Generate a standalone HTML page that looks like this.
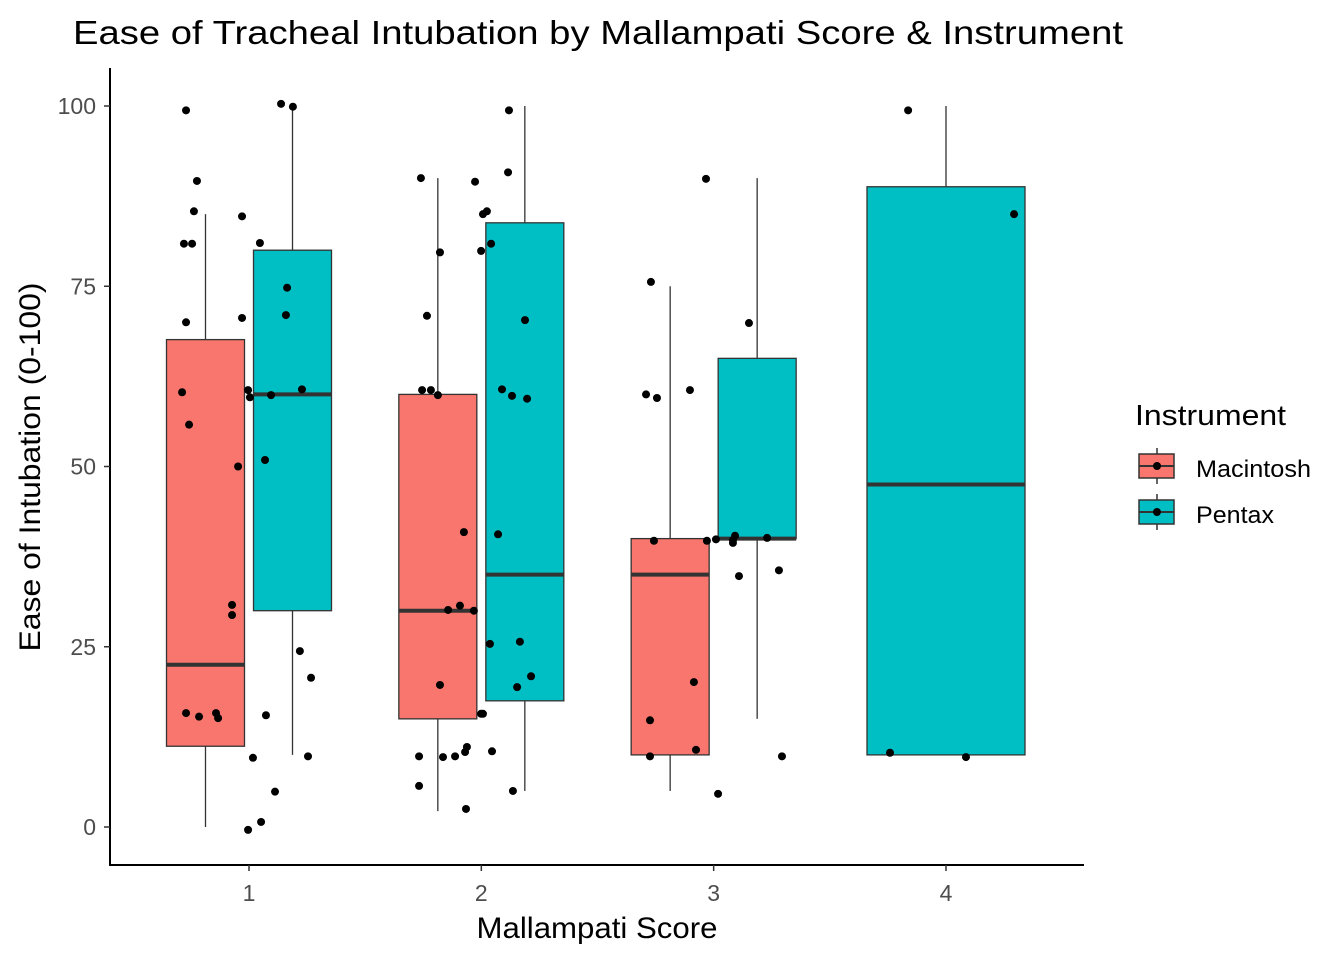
<!DOCTYPE html>
<html><head><meta charset="utf-8">
<style>
html,body{margin:0;padding:0;background:#fff;}
svg{display:block;font-family:"Liberation Sans",Arial,sans-serif;}
</style></head>
<body>
<svg id="chart" width="1344" height="960" viewBox="0 0 1344 960">
<text x="73" y="44" font-size="33" fill="#000" textLength="1050" lengthAdjust="spacingAndGlyphs">Ease of Tracheal Intubation by Mallampati Score &amp; Instrument</text>
<g id="boxes"></g>
<g id="points"></g>
<line x1="110" y1="68" x2="110" y2="866" stroke="#000" stroke-width="2"/>
<line x1="109" y1="865" x2="1084" y2="865" stroke="#000" stroke-width="2"/>
<g id="axes"></g>
<text x="597" y="938" font-size="30" text-anchor="middle" fill="#000" textLength="241" lengthAdjust="spacingAndGlyphs">Mallampati Score</text>
<text transform="translate(40,467) rotate(-90)" font-size="30" text-anchor="middle" fill="#000" textLength="369" lengthAdjust="spacingAndGlyphs">Ease of Intubation (0-100)</text>
<g>
<text x="1135" y="425" font-size="29" fill="#000" textLength="151" lengthAdjust="spacingAndGlyphs">Instrument</text>
<g>
<line x1="1157" y1="448" x2="1157" y2="484" stroke="#333" stroke-width="1.5"/>
<rect x="1139" y="454" width="35" height="24" fill="#F8766D" stroke="#333" stroke-width="1.5"/>
<line x1="1139" y1="466" x2="1174" y2="466" stroke="#333" stroke-width="2"/>
<circle cx="1157" cy="466" r="4" fill="#000"/>
<text x="1196" y="477" font-size="24" fill="#000" textLength="115" lengthAdjust="spacingAndGlyphs">Macintosh</text>
</g>
<g>
<line x1="1157" y1="494" x2="1157" y2="530" stroke="#333" stroke-width="1.5"/>
<rect x="1139" y="500" width="35" height="24" fill="#00BFC4" stroke="#333" stroke-width="1.5"/>
<line x1="1139" y1="512" x2="1174" y2="512" stroke="#333" stroke-width="2"/>
<circle cx="1157" cy="512" r="4" fill="#000"/>
<text x="1196" y="523" font-size="24" fill="#000" textLength="78" lengthAdjust="spacingAndGlyphs">Pentax</text>
</g>
</g>
</svg>
<script>
const categories = [1, 2, 3, 4];
const yTicks = [0, 25, 50, 75, 100];
const boxGroup = [1, 1, 2, 2, 3, 3, 4];
const boxInstrument = ["Macintosh", "Pentax", "Macintosh", "Pentax", "Macintosh", "Pentax", "Pentax"];
const boxLow = [0, 10, 2.2, 5, 5, 15, 10];
const boxQ1 = [11.2, 30, 15, 17.5, 10, 40, 10];
const boxMedian = [22.5, 60, 30, 35, 35, 40, 47.5];
const boxQ3 = [67.6, 80, 60, 83.8, 40, 65, 88.8];
const boxHigh = [85, 100, 90, 100, 75, 90, 100];
const pointX = [
0.729,0.776,0.763,0.720,0.755,0.729,0.712,0.742,0.953,0.927,0.927,0.729,0.785,0.858,0.867,
0.970,0.970,1.047,0.996,1.004,1.095,1.069,1.159,1.164,1.228,1.138,1.189,1.219,1.267,1.073,1.254,1.017,1.112,1.052,0.996,
1.740,1.822,1.766,1.745,1.783,1.813,1.925,1.857,1.908,1.968,1.822,1.732,1.835,1.887,1.930,1.938,1.732,1.934,
1.973,2.024,2.007,2.042,1.999,2.115,2.119,2.089,2.132,2.197,2.188,2.072,2.037,2.166,2.214,2.154,1.999,2.007,2.046,2.136,
2.730,2.709,2.756,2.743,2.898,2.915,2.726,2.726,2.924,2.967,2.971,3.010,3.083,3.092,3.083,3.152,3.109,3.230,3.281,3.019,3.294,
3.837,4.293,3.759,4.086];
const pointY = [
99.4,89.6,85.4,80.9,80.9,70,60.3,55.8,50,30.8,29.4,15.8,15.3,15.8,15.1,
84.7,70.6,81,60.6,59.6,59.9,50.9,71,74.8,60.7,100.3,99.9,24.4,20.7,15.5,9.8,9.6,4.9,0.7,-0.4,
90,79.7,70.9,60.6,60.6,59.9,40.9,30.1,30.7,30,19.7,9.8,9.7,9.8,10.4,11.1,5.7,2.5,
89.5,85.4,85,80.9,79.9,90.8,99.4,60.7,59.8,59.4,70.3,40.6,25.4,25.7,20.9,19.4,15.7,15.7,10.5,5,
75.6,60,59.5,39.7,60.6,20.1,14.8,9.8,10.7,89.9,39.7,39.9,39.8,40.4,39.4,69.9,34.8,40.1,35.6,4.6,9.8,
99.4,85,10.3,9.7];

const NS = "http://www.w3.org/2000/svg";
function xScale(v){ return 249 + (v - 1) * 232.33; }
function yScale(v){ return 827 - v * 7.21; }
function mk(tag, attrs, parent){
  const el = document.createElementNS(NS, tag);
  for (const k in attrs) el.setAttribute(k, attrs[k]);
  parent.appendChild(el);
  return el;
}
const colors = {Macintosh: "#F8766D", Pentax: "#00BFC4"};
const gB = document.getElementById("boxes");
for (let i = 0; i < boxGroup.length; i++) {
  const single = boxGroup.filter(g => g === boxGroup[i]).length === 1;
  const w = single ? 158 : 78;
  const off = single ? 0 : (boxInstrument[i] === "Macintosh" ? -43.5 : 43.5);
  const cx = xScale(boxGroup[i]) + off;
  const g = mk("g", {}, gB);
  
  
  mk("line", {x1: cx, x2: cx, y1: yScale(boxHigh[i]), y2: yScale(boxQ3[i]), stroke: "#333", "stroke-width": 1.3}, g);
  mk("line", {x1: cx, x2: cx, y1: yScale(boxQ1[i]), y2: yScale(boxLow[i]), stroke: "#333", "stroke-width": 1.3}, g);
  mk("rect", {x: cx - w/2, y: yScale(boxQ3[i]), width: w, height: yScale(boxQ1[i]) - yScale(boxQ3[i]), fill: colors[boxInstrument[i]], stroke: "#333", "stroke-width": 1.3}, g);
  mk("line", {x1: cx - w/2, x2: cx + w/2, y1: yScale(boxMedian[i]), y2: yScale(boxMedian[i]), stroke: "#333", "stroke-width": 4}, g);
}
const gP = document.getElementById("points");
for (let i = 0; i < pointX.length; i++) {
  const c = mk("circle", {cx: xScale(pointX[i]), cy: yScale(pointY[i]), r: 4, fill: "#000"}, gP);
  
  
}
const gA = document.getElementById("axes");
yTicks.forEach(t => {
  const y = yScale(t);
  const l = mk("line", {x1: 104, x2: 110, y1: y, y2: y, stroke: "#333", "stroke-width": 1.5}, gA);
  
  
  const tx = mk("text", {x: 96, y: y + 8, "font-size": 23, "text-anchor": "end", fill: "#4d4d4d"}, gA);
  tx.textContent = t;
  
  
});
categories.forEach(c => {
  const x = xScale(c);
  const l = mk("line", {x1: x, x2: x, y1: 865, y2: 871, stroke: "#333", "stroke-width": 1.5}, gA);
  
  
  const tx = mk("text", {x: x, y: 901, "font-size": 23, "text-anchor": "middle", fill: "#4d4d4d"}, gA);
  tx.textContent = c;
  
  
});
</script>
</body></html>
